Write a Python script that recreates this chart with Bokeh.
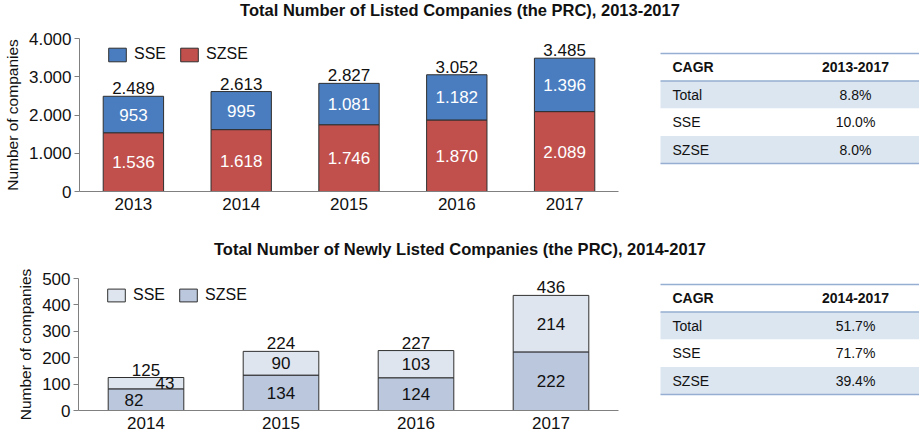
from bokeh.plotting import figure
from bokeh.models import ColumnDataSource, Range1d, FactorRange, FixedTicker, Legend, LegendItem
from bokeh.layouts import column, row
from bokeh.core.properties import value
from bokeh.embed import file_html
from bokeh.resources import INLINE

FONT = "Liberation Sans"

# ---------------- data ----------------
title_top = "Total Number of Listed Companies (the PRC), 2013-2017"
years_top = ["2013", "2014", "2015", "2016", "2017"]
sse_top = [953, 995, 1081, 1182, 1396]
szse_top = [1536, 1618, 1746, 1870, 2089]
total_top = [2489, 2613, 2827, 3052, 3485]
yticks_top = [0, 1000, 2000, 3000, 4000]
ytick_labels_top = ["0", "1.000", "2.000", "3.000", "4.000"]
table_top_header = ["CAGR", "2013-2017"]
table_top_rows = ["Total", "SSE", "SZSE"]
table_top_vals = ["8.8%", "10.0%", "8.0%"]

title_bot = "Total Number of Newly Listed Companies (the PRC), 2014-2017"
years_bot = ["2014", "2015", "2016", "2017"]
sse_bot = [43, 90, 103, 214]
szse_bot = [82, 134, 124, 222]
total_bot = [125, 224, 227, 436]
yticks_bot = [0, 100, 200, 300, 400, 500]
ytick_labels_bot = ["0", "100", "200", "300", "400", "500"]
table_bot_header = ["CAGR", "2014-2017"]
table_bot_rows = ["Total", "SSE", "SZSE"]
table_bot_vals = ["51.7%", "71.7%", "39.4%"]

series_names = ["SSE", "SZSE"]
y_axis_label = "Number of companies"

# label nudges (style, not data)
dx_sse_bot = [19, 0, 0, 0]
dx_szse_bot = [-12, 0, 0, 0]

CHART_W = 640
TABLE_W = 279
LEFT_B = 78
RIGHT_B = 22


def fmt(v):
    return f"{v:,}".replace(",", ".")


def bar_chart(years, sse, szse, total, yticks, ylabels, ymax, h, btop, fh,
              c_sse, c_szse, inner_color, dx_sse, dx_szse, leg_gap, leg_h):
    p = figure(width=CHART_W, height=h, x_range=FactorRange(*years),
               y_range=Range1d(0, ymax), output_backend="svg",
               toolbar_location=None, min_border_left=LEFT_B, min_border_right=RIGHT_B,
               min_border_top=btop, min_border_bottom=h - btop - fh)
    p.outline_line_color = None
    p.xgrid.visible = False
    p.ygrid.visible = False

    src = ColumnDataSource(dict(
        year=years, sse=sse, szse=szse,
        stack_top=[a + b for a, b in zip(szse, sse)],
        sz_mid=[a / 2 for a in szse],
        ss_mid=[a + b / 2 for a, b in zip(szse, sse)],
        total=total,
        sz_lbl=[fmt(v) for v in szse],
        ss_lbl=[fmt(v) for v in sse],
        tot_lbl=[fmt(v) for v in total],
        dx_sse=dx_sse, dx_szse=dx_szse,
    ))
    r_sz = p.vbar(x="year", bottom=0, top="szse", width=0.56, fill_color=c_szse,
                  line_color="#2f2f2f", line_width=1, source=src)
    r_ss = p.vbar(x="year", bottom="szse", top="stack_top", width=0.56, fill_color=c_sse,
                  line_color="#2f2f2f", line_width=1, source=src)

    common = dict(text_align="center", text_font=value(FONT), text_font_size="17px", source=src)
    p.text(x="year", y="sz_mid", text="sz_lbl", text_baseline="middle",
           text_color=inner_color, x_offset="dx_szse", **common)
    p.text(x="year", y="ss_mid", text="ss_lbl", text_baseline="middle",
           text_color=inner_color, x_offset="dx_sse", **common)
    p.text(x="year", y="stack_top", text="tot_lbl", text_baseline="bottom",
           text_color="#111111", y_offset=-2, **common)

    legend = Legend(items=[LegendItem(label=series_names[0], renderers=[r_ss]),
                           LegendItem(label=series_names[1], renderers=[r_sz])],
                    orientation="horizontal", location=(27, fh - leg_gap - leg_h),
                    padding=0, margin=0, spacing=12, label_standoff=6,
                    glyph_width=22, glyph_height=leg_h, label_height=leg_h,
                    label_text_font=FONT, label_text_font_size="16px",
                    label_text_color="#111111",
                    border_line_alpha=0, background_fill_alpha=0)
    p.add_layout(legend)

    ya = p.yaxis[0]
    ya.ticker = FixedTicker(ticks=yticks)
    ya.major_label_overrides = {t: l for t, l in zip(yticks, ylabels)}
    ya.minor_tick_line_color = None
    ya.major_tick_in = 0
    ya.major_tick_out = 5
    ya.major_tick_line_color = "#808080"
    ya.axis_line_color = "#808080"
    ya.major_label_standoff = 3
    ya.major_label_text_font = FONT
    ya.major_label_text_font_size = "17px"
    ya.major_label_text_color = "#111111"
    ya.axis_label = y_axis_label
    ya.axis_label_text_font = FONT
    ya.axis_label_text_font_size = "15.5px"
    ya.axis_label_text_font_style = "normal"
    ya.axis_label_text_color = "#111111"
    ya.axis_label_standoff = 5

    xa = p.xaxis[0]
    xa.major_tick_line_color = None
    xa.minor_tick_line_color = None
    xa.major_tick_out = 0
    xa.major_tick_in = 0
    xa.axis_line_color = "#808080"
    xa.major_label_standoff = 6
    xa.major_label_text_font = FONT
    xa.major_label_text_font_size = "17px"
    xa.major_label_text_color = "#111111"
    return p


def title_fig(text, h, yc):
    total_w = CHART_W + TABLE_W
    p = figure(width=total_w, height=h, x_range=Range1d(LEFT_B, total_w),
               y_range=Range1d(h, 0), output_backend="svg", toolbar_location=None,
               min_border_left=LEFT_B, min_border_right=0, min_border_top=0,
               min_border_bottom=0, x_axis_type=None, y_axis_type=None)
    p.outline_line_color = None
    p.grid.visible = False
    p.text(x=[total_w / 2], y=[yc], text=[text], text_align="center", text_baseline="middle",
           text_font=value(FONT), text_font_size="16.5px", text_font_style="bold",
           text_color="#111111")
    return p


def table_fig(h, btop, fh, top, header, rows, vals):
    p = figure(width=TABLE_W, height=h, x_range=Range1d(0, TABLE_W), y_range=Range1d(fh, 0),
               output_backend="svg", toolbar_location=None, min_border_left=0,
               min_border_right=0, min_border_top=btop, min_border_bottom=h - btop - fh,
               x_axis_type=None, y_axis_type=None)
    p.outline_line_color = None
    p.grid.visible = False
    rh = 27.5
    left, right = 20, TABLE_W
    row_tops = [top + rh * (i + 1) for i in range(len(rows))]
    fills = ["#dce6f1" if i % 2 == 0 else "#ffffff" for i in range(len(rows))]
    p.quad(left=left, right=right, top=row_tops, bottom=[t + rh for t in row_tops],
           fill_color=fills, line_color=None)
    ys = [top, top + rh, top + rh * (len(rows) + 1)]
    p.segment(x0=left, x1=right, y0=ys, y1=ys, line_color="#95aed1", line_width=1.6)
    tc = dict(text_font=value(FONT), text_font_size="14px", text_baseline="middle",
              text_color="#111111")
    p.text(x=[32], y=[top + rh / 2], text=[header[0]], text_align="left",
           text_font_style="bold", **tc)
    p.text(x=[215], y=[top + rh / 2], text=[header[1]], text_align="center",
           text_font_style="bold", **tc)
    p.text(x=[32] * len(rows), y=[t + rh / 2 for t in row_tops], text=rows,
           text_align="left", **tc)
    p.text(x=[215] * len(rows), y=[t + rh / 2 for t in row_tops], text=vals,
           text_align="center", **tc)
    return p


H1, BT1, FH1 = 202, 18, 153
H2, BT2, FH2 = 177, 20, 132

chart1 = bar_chart(years_top, sse_top, szse_top, total_top, yticks_top, ytick_labels_top,
                   4000, H1, BT1, FH1, "#4a7dbf", "#c1504d", "white",
                   [0] * 5, [0] * 5, 8, 17)
table1 = table_fig(H1, BT1, FH1, 15, table_top_header, table_top_rows, table_top_vals)

chart2 = bar_chart(years_bot, sse_bot, szse_bot, total_bot, yticks_bot, ytick_labels_bot,
                   500, H2, BT2, FH2, "#dee5ef", "#bac7dd", "#111111",
                   dx_sse_bot, dx_szse_bot, 10, 16)
table2 = table_fig(H2, BT2, FH2, 6, table_bot_header, table_bot_rows, table_bot_vals)

layout = column(title_fig(title_top, 20, 9),
                row(chart1, table1, spacing=0),
                title_fig(title_bot, 36, 26),
                row(chart2, table2, spacing=0),
                spacing=0)

open("out.html", "w").write(file_html(layout, INLINE))
